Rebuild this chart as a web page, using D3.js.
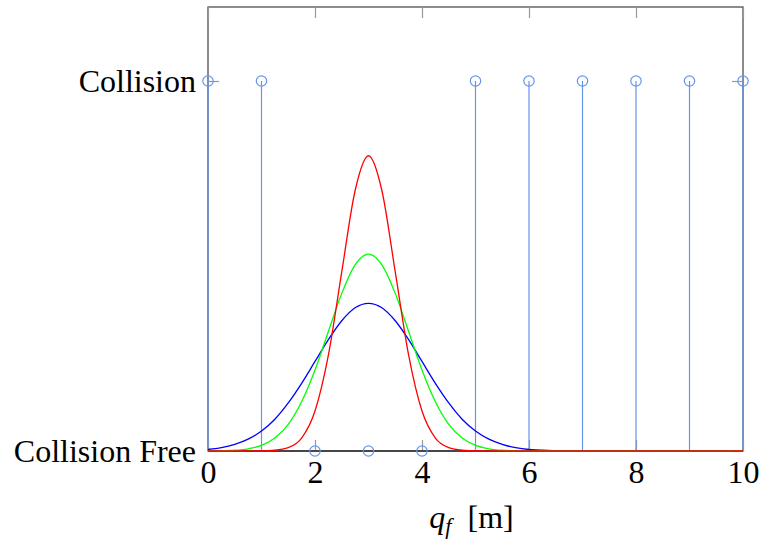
<!DOCTYPE html>
<html>
<head>
<meta charset="utf-8">
<script src="https://cdn.jsdelivr.net/npm/d3@7"></script>
<style>
  body { margin: 0; background: #fff; }
  svg text { font-family: "Liberation Serif", "DejaVu Serif", serif; }
</style>
</head>
<body>
<div id="chart"></div>
<script>
// stem samples (x in m, 1 = collision, 0 = collision free)
const stemX = [0, 1, 2, 3, 4, 5, 6, 7, 8, 9, 10];
const stemY = [1, 1, 0, 0, 0, 1, 1, 1, 1, 1, 1];

const yTickValues = [0, 1];
const yTickLabels = ['Collision Free', 'Collision'];
const xTickValues = [0, 2, 4, 6, 8, 10];

// curve samples
const curveX = [0, 0.25, 0.5, 0.75, 1, 1.25, 1.5, 1.75, 2, 2.25, 2.5, 2.75, 3,
  3.25, 3.5, 3.75, 4, 4.25, 4.5, 4.75, 5, 5.25, 5.5, 5.75, 6, 6.25, 6.5, 6.75, 7,
  7.5, 8, 8.5, 9, 9.5, 10];
const blueY = [0.004, 0.009, 0.018, 0.032, 0.054, 0.086, 0.130, 0.183, 0.242, 0.301, 0.352, 0.387, 0.399,
  0.387, 0.352, 0.301, 0.242, 0.183, 0.130, 0.086, 0.054, 0.032, 0.018, 0.009, 0.004, 0.002, 0.001, 0.0004, 0.0001,
  0, 0, 0, 0, 0, 0];
const greenY = [0.0002, 0.0006, 0.002, 0.006, 0.015, 0.035, 0.072, 0.133, 0.219, 0.323, 0.426, 0.503, 0.532,
  0.503, 0.426, 0.323, 0.219, 0.133, 0.072, 0.035, 0.015, 0.006, 0.002, 0.0006, 0.0002, 0, 0, 0, 0,
  0, 0, 0, 0, 0, 0];
const redY = [0, 0, 0, 0, 0.0003, 0.002, 0.009, 0.035, 0.108, 0.259, 0.484, 0.704, 0.798,
  0.704, 0.484, 0.259, 0.108, 0.035, 0.009, 0.002, 0.0003, 0, 0, 0, 0, 0, 0, 0, 0,
  0, 0, 0, 0, 0, 0];

const series = [
  { name: 'blue', color: '#0000ff', values: blueY },
  { name: 'green', color: '#00ff00', values: greenY },
  { name: 'red', color: '#ff0000', values: redY }
];

const width = 759, height = 542;
const margin = { top: 7, right: 16, bottom: 91, left: 208 };
const w = width - margin.left - margin.right;
const h = height - margin.top - margin.bottom;

const svg = d3.select('#chart').append('svg')
  .attr('width', width)
  .attr('height', height);

const plot = svg.append('g')
  .attr('transform', `translate(${margin.left},${margin.top})`);

const x = d3.scaleLinear().domain([0, 10]).range([0, w]);
const y = d3.scaleLinear().domain([0, 1.2]).range([h, 0]);

const fontSize = 32;
const tickLen = 11;

// frame
plot.append('rect')
  .attr('width', w)
  .attr('height', h)
  .attr('fill', 'none')
  .attr('stroke', '#404040')
  .attr('stroke-width', 1.2);

// axes (inward ticks on all four sides)
const styleAxis = g => {
  g.select('.domain').remove();
  g.selectAll('.tick line').attr('stroke', '#999').attr('stroke-width', 1.2);
};

plot.append('g')
  .attr('transform', `translate(0,${h})`)
  .call(d3.axisBottom(x).tickValues(xTickValues).tickSizeInner(-tickLen).tickSizeOuter(0).tickPadding(9))
  .call(styleAxis)
  .call(g => g.selectAll('text').attr('font-size', fontSize).attr('fill', '#000')
    .style('font-family', '"Liberation Serif", serif'));

plot.append('g')
  .call(d3.axisTop(x).tickValues(xTickValues).tickSizeInner(-tickLen).tickSizeOuter(0).tickFormat(''))
  .call(styleAxis);

plot.append('g')
  .call(d3.axisLeft(y).tickValues(yTickValues).tickSizeInner(-tickLen).tickSizeOuter(0).tickPadding(12)
    .tickFormat((d, i) => yTickLabels[i]))
  .call(styleAxis)
  .call(g => g.selectAll('text').attr('font-size', fontSize).attr('fill', '#000')
    .style('font-family', '"Liberation Serif", serif'));

plot.append('g')
  .attr('transform', `translate(${w},0)`)
  .call(d3.axisRight(y).tickValues(yTickValues).tickSizeInner(-tickLen).tickSizeOuter(0).tickFormat(''))
  .call(styleAxis);

// bottom axis line
plot.append('line')
  .attr('x1', 0).attr('x2', w)
  .attr('y1', h).attr('y2', h)
  .attr('stroke', '#000')
  .attr('stroke-width', 1.2);

// stems
const stemColor = '#6495ed';
const stems = stemX.map((d, i) => ({ x: d, y: stemY[i] }));

plot.selectAll('.stem')
  .data(stems)
  .enter().append('line')
  .attr('class', 'stem')
  .attr('x1', d => x(d.x)).attr('x2', d => x(d.x))
  .attr('y1', y(0)).attr('y2', d => y(d.y))
  .attr('stroke', stemColor)
  .attr('stroke-width', 1.2);

// curves
const line = d3.line()
  .x((d, i) => x(curveX[i]))
  .y(d => y(d))
  .curve(d3.curveMonotoneX);

plot.selectAll('.curve')
  .data(series)
  .enter().append('path')
  .attr('class', 'curve')
  .attr('d', d => line(d.values))
  .attr('fill', 'none')
  .attr('stroke', d => d.color)
  .attr('stroke-width', 1.3);

// stem markers
plot.selectAll('.marker')
  .data(stems)
  .enter().append('circle')
  .attr('class', 'marker')
  .attr('cx', d => x(d.x))
  .attr('cy', d => y(d.y))
  .attr('r', 5.2)
  .attr('fill', 'none')
  .attr('stroke', stemColor)
  .attr('stroke-width', 1.2);

// x label
const xl = svg.append('text')
  .attr('x', margin.left + w / 2 - 4)
  .attr('y', 528)
  .attr('text-anchor', 'middle')
  .attr('font-size', fontSize);
xl.append('tspan').attr('font-style', 'italic').text('q');
xl.append('tspan').attr('font-style', 'italic').attr('font-size', fontSize * 0.7).attr('dy', 6).text('f');
xl.append('tspan').attr('dy', -6).text('\u2002[m]');
</script>
</body>
</html>
